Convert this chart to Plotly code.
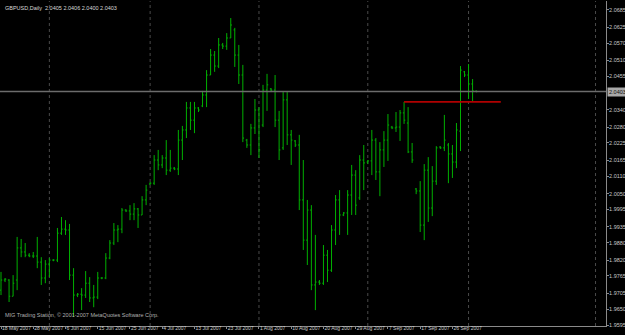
import plotly.graph_objects as go
import pandas as pd

# ---- data (GBPUSD daily) ----
# daily sessions incl. Sunday bars, Saturdays skipped
dates = [d for d in pd.date_range("2007-05-18", "2007-10-03") if d.dayofweek != 5]
bar_index = list(range(len(dates)))

opens = [1.9716, 1.9751, 1.9751, 1.9695, 1.9751, 1.9862, 1.9848, 1.9837, 1.9834, 1.9834,
         1.9813, 1.9758, 1.9806, 1.9820, 1.9820, 1.9913, 1.9927, 1.9924, 1.9768, 1.9699,
         1.9702, 1.9699, 1.9740, 1.9689, 1.9692, 1.9758, 1.9758, 1.9827, 1.9879, 1.9924,
         1.9927, 1.9993, 1.9990, 1.9979, 1.9997, 1.9976, 2.0028, 2.0083, 2.0086, 2.0166,
         2.0149, 2.0173, 2.0131, 2.0138, 2.0135, 2.0235, 2.0270, 2.0346, 2.0304, 2.0346,
         2.0353, 2.0391, 2.0460, 2.0529, 2.0491, 2.0564, 2.0560, 2.0588, 2.0616, 2.0529,
         2.0460, 2.0235, 2.0218, 2.0277, 2.0339, 2.0287, 2.0408, 2.0412, 2.0408, 2.0304,
         2.0208, 2.0374, 2.0253, 2.0232, 2.0218, 2.0028, 1.9889, 1.9993, 1.9734, 1.9744,
         1.9740, 1.9837, 1.9785, 1.9924, 2.0028, 1.9976, 1.9983, 2.0045, 2.0114, 2.0035,
         2.0166, 2.0159, 2.0163, 2.0235, 2.0125, 2.0201, 2.0235, 2.0280, 2.0277, 2.0280,
         2.0329, 2.0294, 2.0194, 2.0066, 2.0059, 1.9941, 2.0131, 2.0000, 2.0093, 2.0211,
         2.0208, 2.0218, 2.0187, 2.0159, 2.0266, 2.0471, 2.0460, 2.0429, 2.0405]
highs = [1.9779, 1.9758, 1.9754, 1.9768, 1.9900, 1.9893, 1.9879, 1.9844, 1.9848, 1.9900,
         1.9830, 1.9820, 1.9827, 1.9823, 1.9931, 1.9969, 1.9958, 1.9945, 1.9792, 1.9706,
         1.9723, 1.9782, 1.9761, 1.9734, 1.9779, 1.9761, 1.9844, 1.9889, 1.9948, 1.9941,
         2.0000, 1.9996, 2.0010, 2.0017, 2.0000, 2.0041, 2.0080, 2.0090, 2.0183, 2.0201,
         2.0183, 2.0235, 2.0201, 2.0142, 2.0270, 2.0284, 2.0367, 2.0367, 2.0367, 2.0349,
         2.0405, 2.0477, 2.0550, 2.0543, 2.0588, 2.0571, 2.0605, 2.0657, 2.0623, 2.0564,
         2.0495, 2.0239, 2.0291, 2.0377, 2.0349, 2.0426, 2.0464, 2.0415, 2.0460, 2.0336,
         2.0401, 2.0401, 2.0270, 2.0235, 2.0253, 2.0166, 2.0028, 2.0010, 1.9907, 1.9751,
         1.9872, 1.9855, 1.9941, 2.0045, 2.0062, 1.9986, 2.0062, 2.0149, 2.0131, 2.0183,
         2.0218, 2.0166, 2.0270, 2.0242, 2.0228, 2.0266, 2.0325, 2.0284, 2.0332, 2.0339,
         2.0367, 2.0349, 2.0225, 2.0069, 2.0093, 2.0152, 2.0176, 2.0145, 2.0214, 2.0214,
         2.0322, 2.0225, 2.0218, 2.0294, 2.0491, 2.0474, 2.0498, 2.0446, 2.0406]
lows = [1.9699, 1.9744, 1.9675, 1.9695, 1.9716, 1.9830, 1.9830, 1.9830, 1.9827, 1.9792,
        1.9734, 1.9740, 1.9761, 1.9816, 1.9813, 1.9907, 1.9907, 1.9751, 1.9623, 1.9692,
        1.9647, 1.9689, 1.9675, 1.9657, 1.9685, 1.9754, 1.9754, 1.9823, 1.9872, 1.9882,
        1.9913, 1.9986, 1.9958, 1.9958, 1.9931, 1.9976, 2.0010, 2.0080, 2.0080, 2.0131,
        2.0138, 2.0114, 2.0125, 2.0131, 2.0114, 2.0166, 2.0242, 2.0270, 2.0259, 2.0332,
        2.0349, 2.0349, 2.0460, 2.0471, 2.0484, 2.0550, 2.0547, 2.0588, 2.0488, 2.0429,
        2.0228, 2.0208, 2.0183, 2.0256, 2.0173, 2.0280, 2.0336, 2.0401, 2.0280, 2.0166,
        2.0201, 2.0218, 2.0149, 2.0211, 1.9993, 1.9855, 1.9803, 1.9716, 1.9647, 1.9734,
        1.9734, 1.9744, 1.9779, 1.9872, 1.9907, 1.9972, 1.9907, 1.9976, 1.9976, 2.0028,
        2.0062, 2.0152, 2.0114, 2.0097, 2.0041, 2.0142, 2.0163, 2.0273, 2.0263, 2.0232,
        2.0291, 2.0190, 2.0156, 2.0048, 1.9917, 1.9889, 1.9952, 1.9972, 2.0080, 2.0204,
        2.0197, 2.0086, 2.0104, 2.0138, 2.0197, 2.0453, 2.0377, 2.0370, 2.0400]
closes = [1.9751, 1.9754, 1.9695, 1.9740, 1.9862, 1.9848, 1.9837, 1.9834, 1.9834, 1.9813,
          1.9758, 1.9806, 1.9820, 1.9820, 1.9913, 1.9927, 1.9924, 1.9768, 1.9699, 1.9702,
          1.9699, 1.9740, 1.9689, 1.9692, 1.9758, 1.9758, 1.9827, 1.9879, 1.9924, 1.9927,
          1.9993, 1.9990, 1.9979, 1.9997, 1.9976, 2.0028, 2.0062, 2.0086, 2.0166, 2.0149,
          2.0173, 2.0131, 2.0138, 2.0135, 2.0235, 2.0270, 2.0346, 2.0304, 2.0346, 2.0339,
          2.0391, 2.0460, 2.0529, 2.0491, 2.0564, 2.0560, 2.0588, 2.0633, 2.0529, 2.0460,
          2.0242, 2.0218, 2.0277, 2.0339, 2.0201, 2.0408, 2.0426, 2.0408, 2.0304, 2.0201,
          2.0374, 2.0253, 2.0235, 2.0218, 2.0028, 1.9889, 1.9993, 1.9734, 1.9744, 1.9740,
          1.9837, 1.9785, 1.9924, 2.0028, 1.9976, 1.9983, 2.0045, 2.0114, 2.0010, 2.0166,
          2.0156, 2.0163, 2.0235, 2.0125, 2.0201, 2.0235, 2.0287, 2.0277, 2.0280, 2.0329,
          2.0304, 2.0194, 2.0166, 2.0059, 1.9941, 2.0131, 2.0000, 2.0093, 2.0208, 2.0208,
          2.0235, 2.0187, 2.0159, 2.0270, 2.0477, 2.0460, 2.0429, 2.0405, 2.0403]

price_ticks = [2.0685, 2.0625, 2.0570, 2.0510, 2.0455, 2.0340, 2.0280, 2.0225, 2.0165,
               2.0110, 2.0050, 1.9995, 1.9935, 1.9880, 1.9820, 1.9765, 1.9705, 1.9650, 1.9595]
price_tick_text = ["%.4f" % v for v in price_ticks]

date_tick_index = [0, 8, 16, 24, 32, 40, 48, 56, 64, 72, 80, 88, 96, 104, 112]
date_tick_text = ["18 May 2007", "28 May 2007", "6 Jun 2007", "15 Jun 2007", "25 Jun 2007",
                  "4 Jul 2007", "13 Jul 2007", "23 Jul 2007", "1 Aug 2007", "10 Aug 2007",
                  "20 Aug 2007", "29 Aug 2007", "7 Sep 2007", "17 Sep 2007", "26 Sep 2007"]

resistance_level = 2.0367
resistance_start = 100
resistance_end = 124
title_text = "GBPUSD,Daily  2.0405 2.0406 2.0400 2.0403"
footer_text = "MIG Trading Station, \u00a9 2001-2007 MetaQuotes Software Corp."

# month separators: first bar of each new month (+ one further right)
separators = [i for i in range(1, len(dates)) if dates[i].month != dates[i - 1].month]
separators.append(147.5)

BAR = "#00b000"
AXIS = "#8a8a8a"
TXT = "#c8c8c8"
FONT = "Liberation Sans"

fig = go.Figure()
fig.add_trace(go.Ohlc(
    x=bar_index, open=opens, high=highs, low=lows, close=closes,
    increasing=dict(line=dict(color=BAR, width=1)),
    decreasing=dict(line=dict(color=BAR, width=1)),
    tickwidth=0.3, hoverinfo="skip", showlegend=False,
))

shapes = []
for s in separators:
    shapes.append(dict(type="line", xref="x", yref="paper", x0=s, x1=s, y0=0, y1=1,
                       line=dict(color="#4a4a4a", width=1, dash="dot"), layer="below"))
shapes.append(dict(type="line", xref="paper", yref="y", x0=0, x1=1,
                   y0=closes[-1], y1=closes[-1], line=dict(color="#6c6c6c", width=1.5)))
shapes.append(dict(type="line", xref="x", yref="y", x0=resistance_start, x1=resistance_end,
                   y0=resistance_level, y1=resistance_level,
                   line=dict(color="#b00000", width=1.6)))

annotations = [
    dict(xref="paper", yref="paper", x=0, y=1, xanchor="left", yanchor="top",
         xshift=3, yshift=-2, text=title_text, showarrow=False,
         font=dict(family=FONT, size=5.5, color="#d8d8d8")),
    dict(xref="paper", yref="paper", x=0, y=0, xanchor="left", yanchor="bottom",
         xshift=3, yshift=6, text=footer_text, showarrow=False,
         font=dict(family=FONT, size=5.5, color="#b0b0b0")),
    dict(xref="paper", yref="y", x=1, y=closes[-1], xanchor="left", yanchor="middle",
         xshift=1, text="%.4f" % closes[-1], showarrow=False, bgcolor="#a8a8a8",
         borderpad=1, font=dict(family=FONT, size=5.5, color="#111111")),
]

fig.update_layout(
    width=625, height=335,
    margin=dict(l=0, r=19, t=1, b=9, autoexpand=False),
    paper_bgcolor="#000000", plot_bgcolor="#000000",
    shapes=shapes, annotations=annotations,
    showlegend=False,
    xaxis=dict(
        range=[-0.25, 150.1], rangeslider=dict(visible=False),
        showgrid=False, zeroline=False,
        showline=True, linecolor=AXIS, linewidth=1,
        tickmode="array", tickvals=date_tick_index, ticktext=date_tick_text,
        ticks="outside", ticklen=2, tickcolor=AXIS, tickangle=0,
        ticklabelposition="outside right", ticklabelstandoff=-3,
        tickfont=dict(family=FONT, size=5, color=TXT), automargin=False,
    ),
    yaxis=dict(
        range=[1.9592, 2.0716], side="right",
        showgrid=False, zeroline=False,
        showline=True, linecolor=AXIS, linewidth=1,
        tickmode="array", tickvals=price_ticks, ticktext=price_tick_text,
        ticks="outside", ticklen=2, tickcolor=AXIS, ticklabelstandoff=-1,
        tickfont=dict(family=FONT, size=5.5, color=TXT), automargin=False,
    ),
)

fig.write_html("out.html")
